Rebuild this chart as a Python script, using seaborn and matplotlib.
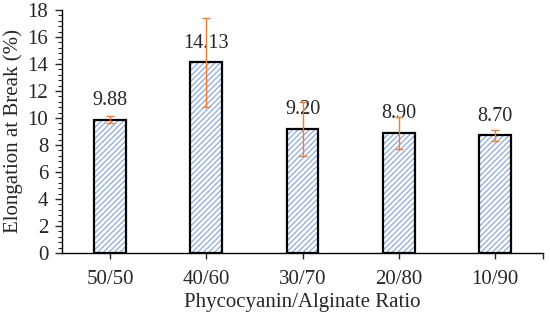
import numpy as np
import pandas as pd
import seaborn as sns
import matplotlib.pyplot as plt
from matplotlib.patches import Rectangle
from matplotlib.ticker import MultipleLocator, FixedLocator

sns.set_theme(style="white")
plt.rcParams['font.family'] = ['Liberation Serif', 'DejaVu Serif']
plt.rcParams['hatch.linewidth'] = 0.9

# data
ratios = ["50/50", "40/60", "30/70", "20/80", "10/90"]
elongation = [9.88, 14.13, 9.20, 8.90, 8.70]
errors = [0.25, 3.3, 2.0, 1.2, 0.4]

df = pd.DataFrame({"Ratio": ratios, "Elongation": elongation})

fig = plt.figure(figsize=(5.5, 3.21), dpi=100)
ax = fig.add_axes([0.113, 0.212, 0.874, 0.757])

sns.barplot(x="Ratio", y="Elongation", data=df, ax=ax, width=0.33,
            color="white", edgecolor="#8FAADC", linewidth=0, hatch="//////")

bars = list(ax.patches)
# black outline on top of the hatched bars
for p in bars:
    ax.add_patch(Rectangle(p.get_xy(), p.get_width(), p.get_height(),
                           fill=False, edgecolor="black", linewidth=1.6, zorder=3))

xs = [p.get_x() + p.get_width() / 2 for p in bars]
ax.errorbar(xs, elongation, yerr=errors, fmt="none", ecolor="#ED7D31",
            elinewidth=1, capsize=3, capthick=1, zorder=4)

for x, v in zip(xs, elongation):
    ax.annotate(f"{v:.2f}", (x, v), xytext=(0, 13.7), textcoords="offset points",
                ha="center", va="center", fontsize=14.5)

ax.set_xlim(-0.5, 4.5)
ax.set_ylim(0, 18)
ax.yaxis.set_major_locator(MultipleLocator(2))
ax.yaxis.set_minor_locator(MultipleLocator(0.4))
ax.xaxis.set_minor_locator(FixedLocator([4.5]))

for s in ["top", "right"]:
    ax.spines[s].set_visible(False)
for s in ["left", "bottom"]:
    ax.spines[s].set_color("black")
    ax.spines[s].set_linewidth(1)

ax.tick_params(axis="y", which="major", left=True, length=5, width=1, labelsize=15, pad=5)
ax.tick_params(axis="y", which="minor", left=True, length=3, width=0.8)
ax.tick_params(axis="x", which="both", bottom=True, length=4, width=1, labelsize=15, pad=8)

ax.set_xlabel("Phycocyanin/Alginate Ratio", fontsize=15, labelpad=3)
ax.set_ylabel("Elongation at Break (%)", fontsize=15, labelpad=3)

fig.savefig("out.png", dpi=100)
